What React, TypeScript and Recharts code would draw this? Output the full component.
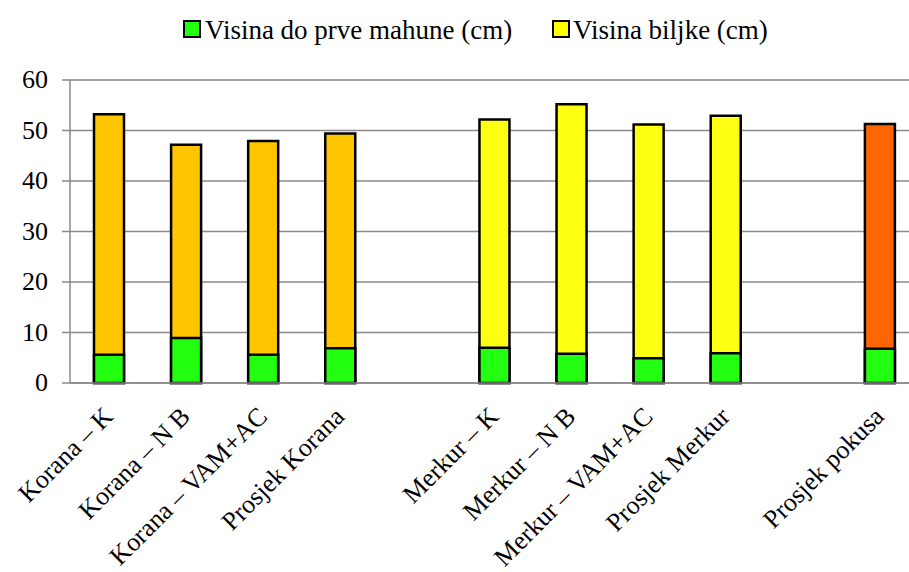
import React from 'react';
import { BarChart, Bar, XAxis, YAxis, CartesianGrid, Legend, Cell } from 'recharts';

const categories = [
  'Korana – K',
  'Korana – N B',
  'Korana – VAM+AC',
  'Prosjek Korana',
  '',
  'Merkur – K',
  'Merkur – N B',
  'Merkur – VAM+AC',
  'Prosjek Merkur',
  '',
  'Prosjek pokusa',
];
const plantHeight = [53.2, 47.2, 47.9, 49.4, null, 52.2, 55.2, 51.2, 52.9, null, 51.3];
const podHeight = [5.6, 8.9, 5.6, 6.9, null, 7.0, 5.8, 4.9, 5.9, null, 6.8];
const yTicks = [0, 10, 20, 30, 40, 50, 60];
const seriesNames = ['Visina do prve mahune (cm)', 'Visina biljke (cm)'];

const plantColors = [
  '#FFC600', '#FFC600', '#FFC600', '#FFC600', '#FFC600',
  '#FFFF11', '#FFFF11', '#FFFF11', '#FFFF11', '#FFFF11',
  '#FF6600',
];
const greenColor = '#22FF11';
const legendColors = [greenColor, '#FFFF00'];
const FONT = "'Liberation Serif', 'Times New Roman', serif";

const data = categories.map((name, i) => ({
  name,
  plant: plantHeight[i],
  pod: podHeight[i],
}));

const XTick = (props: any) => {
  const { x, y, payload } = props;
  if (!payload || !payload.value) return null;
  return (
    <text
      transform={`translate(${x + 6},${y + 35}) rotate(-45)`}
      textAnchor="end"
      fontFamily={FONT}
      fontSize={26}
      fill="#000"
    >
      {payload.value}
    </text>
  );
};

const YTick = (props: any) => {
  const { x, y, payload } = props;
  return (
    <text
      x={x}
      y={y + 8}
      textAnchor="end"
      fontFamily={FONT}
      fontSize={26}
      fill="#000"
    >
      {payload.value}
    </text>
  );
};

const LegendContent = () => (
  <div style={{ position: 'relative', width: 909, height: 40, fontFamily: FONT, fontSize: 27, color: '#000' }}>
    <div style={{ position: 'absolute', left: 183, top: 8, width: 14, height: 14, background: legendColors[0], border: '2.5px solid #000' }} />
    <span style={{ position: 'absolute', left: 205, top: 0, lineHeight: '36px', whiteSpace: 'nowrap' }}>{seriesNames[0]}</span>
    <div style={{ position: 'absolute', left: 552, top: 8, width: 14, height: 14, background: legendColors[1], border: '2.5px solid #000' }} />
    <span style={{ position: 'absolute', left: 573, top: 0, lineHeight: '36px', whiteSpace: 'nowrap' }}>{seriesNames[1]}</span>
  </div>
);

export default function App() {
  return (
    <div style={{ position: 'fixed', left: 0, top: 0, width: 909, height: 572, overflow: 'hidden', background: '#fff', fontFamily: FONT }}>
      <BarChart
        width={930}
        height={572}
        data={data}
        margin={{ top: 80, right: 12, bottom: 0, left: 0 }}
      >
        <CartesianGrid xAxisId="a" vertical={false} stroke="#8a8a8a" strokeWidth={1.5} />
        <XAxis
          xAxisId="a"
          dataKey="name"
          interval={0}
          height={189}
          tickSize={0}
          tickMargin={0}
          tickLine={false}
          axisLine={{ stroke: '#8a8a8a', strokeWidth: 1.5 }}
          tick={<XTick />}
        />
        <XAxis xAxisId="b" dataKey="name" hide />
        <YAxis
          width={70}
          domain={[0, 60]}
          ticks={yTicks}
          interval={0}
          tickSize={8}
          tickMargin={14}
          axisLine={{ stroke: '#8a8a8a', strokeWidth: 1.5 }}
          tickLine={{ stroke: '#8a8a8a', strokeWidth: 1.5 }}
          tick={<YTick />}
        />
        <Legend
          verticalAlign="middle"
          align="center"
          content={<LegendContent />}
          wrapperStyle={{ top: 12, left: 0, width: 909 }}
        />
        <Bar xAxisId="a" dataKey="plant" name={seriesNames[1]} barSize={30} stroke="#000" strokeWidth={2.5} isAnimationActive={false}>
          {data.map((d, i) => (
            <Cell key={`p${i}`} fill={plantColors[i]} />
          ))}
        </Bar>
        <Bar xAxisId="b" dataKey="pod" name={seriesNames[0]} barSize={30} fill={greenColor} stroke="#000" strokeWidth={2.5} isAnimationActive={false} />
      </BarChart>
    </div>
  );
}
